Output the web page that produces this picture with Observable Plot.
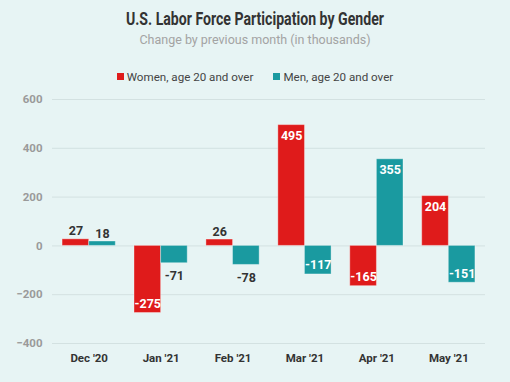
<!DOCTYPE html>
<html>
<head>
<meta charset="utf-8">
<script src="https://cdn.jsdelivr.net/npm/d3@7"></script>
<script src="https://cdn.jsdelivr.net/npm/@observablehq/plot@0.6"></script>
<style>
  html, body { margin: 0; padding: 0; background: #e7f4f4; }
  body { width: 510px; height: 382px; overflow: hidden; font-family: Roboto, "Liberation Sans", sans-serif; position: relative; }
  #title { position: absolute; top: 9px; left: 0; width: 510px; text-align: center; font-family: Roboto, sans-serif; font-weight: bold; font-size: 17.5px; color: #333; }
  #title span { display: inline-block; transform-origin: 50% 50%; white-space: nowrap; }
  #subtitle { position: absolute; top: 32px; left: 0; width: 510px; text-align: center; font-size: 12.5px; color: #a3a3a3; }
  #legend { position: absolute; top: 70px; left: 0; width: 510px; text-align: center; font-size: 11.6px; color: #444; }
  #legend span.item { display: inline-block; margin: 0 10px; }
  #legend span.sw { display: inline-block; width: 7px; height: 7px; margin-right: 3px; vertical-align: 1px; }
  #chart { position: absolute; top: 88px; left: 0; }
</style>
</head>
<body>
<div id="title"><span>U.S. Labor Force Participation by Gender</span></div>
<div id="subtitle">Change by previous month (in thousands)</div>
<div id="legend"></div>
<div id="chart"></div>
<script>
const months = ["Dec '20", "Jan '21", "Feb '21", "Mar '21", "Apr '21", "May '21"];
const women = [27, -275, 26, 495, -165, 204];
const men = [18, -71, -78, -117, 355, -151];
const seriesNames = ["Women, age 20 and over", "Men, age 20 and over"];
const seriesColors = ["#df1b1b", "#1a9aa0"];
const yTicks = [-400, -200, 0, 200, 400, 600];

// fit title width like the condensed original
const tspan = document.querySelector("#title span");
const tw = tspan.getBoundingClientRect().width;
tspan.style.transform = `scaleX(${258 / tw})`;

const womenData = months.map((m, i) => ({month: m, series: seriesNames[0], value: women[i]}));
const menData = months.map((m, i) => ({month: m, series: seriesNames[1], value: men[i]}));

const legend = document.getElementById("legend");
seriesNames.forEach((s, i) => {
  const it = document.createElement("span");
  it.className = "item";
  it.innerHTML = `<span class="sw" style="background:${seriesColors[i]}"></span>${s}`;
  legend.appendChild(it);
});

const half = 26.6;
const labelStyle = {fontWeight: "bold", fontSize: 12.5, lineAnchor: "middle"};
function labels(rows, dx) {
  const inPos = rows.filter(d => Math.abs(d.value) >= 100 && d.value > 0);
  const inNeg = rows.filter(d => Math.abs(d.value) >= 100 && d.value < 0);
  const outPos = rows.filter(d => Math.abs(d.value) < 100 && d.value >= 0);
  const outNeg = rows.filter(d => Math.abs(d.value) < 100 && d.value < 0);
  const t = d => String(d.value);
  return [
    Plot.text(inPos, {x: "month", y: "value", text: t, dx, dy: 11, fill: "white", ...labelStyle}),
    Plot.text(inNeg, {x: "month", y: "value", text: t, dx, dy: -9, fill: "white", ...labelStyle}),
    Plot.text(outPos, {x: "month", y: "value", text: t, dx, dy: -8, fill: "#333", ...labelStyle}),
    Plot.text(outNeg, {x: "month", y: "value", text: t, dx, dy: 13, fill: "#333", ...labelStyle})
  ];
}

const chart = Plot.plot({
  width: 510,
  height: 294,
  marginTop: 11,
  marginBottom: 39,
  marginLeft: 52,
  marginRight: 25,
  style: {background: "transparent", fontFamily: "Roboto, sans-serif"},
  x: {domain: months, paddingInner: 0.26, paddingOuter: 0.14, round: false, label: null},
  y: {domain: [-400, 600], ticks: yTicks, label: null},
  marks: [
    Plot.gridY(yTicks, {stroke: "#d3e1e1", strokeOpacity: 1, strokeWidth: 1}),
    Plot.axisY(yTicks, {tickSize: 0, tickPadding: 10, fill: "#9a9a9a", fontWeight: "bold", fontSize: 11.5, label: null}),
    Plot.barY(womenData, {x: "month", y: "value", fill: seriesColors[0], insetRight: half, stroke: "#ffffff", strokeOpacity: 0.35, strokeWidth: 1}),
    Plot.barY(menData, {x: "month", y: "value", fill: seriesColors[1], insetLeft: half, stroke: "#ffffff", strokeOpacity: 0.35, strokeWidth: 1}),
    ...labels(womenData, -half / 2),
    ...labels(menData, half / 2),
    Plot.axisX({anchor: "bottom", tickSize: 0, tickPadding: 10, fontWeight: "bold", fontSize: 11.5, fill: "#333", label: null})
  ]
});
document.getElementById("chart").appendChild(chart);
</script>
</body>
</html>
